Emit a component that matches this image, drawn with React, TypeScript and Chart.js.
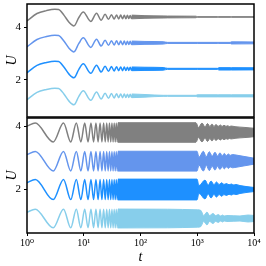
import React, { useEffect, useRef } from 'react';
import { Chart, registerables } from 'chart.js';
Chart.register(...registerables);

const FONT = '"Liberation Serif", "DejaVu Serif", serif';
const seriesColors = ['#808080', '#6495ED', '#1E90FF', '#87CEEB'];

// shared axis values
const xMin = 1;
const xMax = 10000;
const xTickValues = [1, 10, 100, 1000, 10000];
const xTickLabels = ['10⁰', '10¹', '10²', '10³', '10⁴'];
const yTickValues = [2, 4];
const yLabel = 'U';
const xLabel = 't';

// ---------- top panel ----------
const topYMin = 0.6;
const topYMax = 4.87;
const topLevels = [4.38, 3.4, 2.42, 1.4];
// resolved part of the damped oscillation (deviation from each level)
const topWaveT = [1, 1.5, 2.2, 3.1, 3.6, 4.5, 5.5, 6.7, 8.2, 9.8, 13.3, 16.8, 20.3, 23.8, 27.3, 30.8, 34.3, 37.8, 41.3, 44.8, 48.3, 51.8, 55.3, 58.8, 62.3, 65.8, 69.3, 72.8];
const topWaveDev = [-0.15, 0.13, 0.24, 0.29, 0.28, 0.06, -0.2, -0.34, -0.02, 0.19, -0.17, 0.14, -0.12, 0.1, -0.09, 0.085, -0.08, 0.077, -0.074, 0.072, -0.07, 0.068, -0.066, 0.064, -0.062, 0.06, -0.058, 0.056];
// dense part: half-width of the oscillation band
const topBandT = [70, 120, 250, 300, 950, 1000, 2300, 2400, 3800, 4000, 10000];
const topBandGray = [0.07, 0.05, 0.04, 0.035, 0.03, 0.012, 0.012, 0.012, 0.012, 0.012, 0.012];
const topBandBlue = [0.07, 0.055, 0.045, 0.02, 0.02, 0.02, 0.02, 0.02, 0.02, 0.04, 0.035];
const topBandDodger = [0.07, 0.06, 0.05, 0.02, 0.02, 0.02, 0.02, 0.045, 0.045, 0.045, 0.04];
const topBandLight = [0.07, 0.05, 0.02, 0.02, 0.02, 0.04, 0.04, 0.04, 0.04, 0.04, 0.04];

// ---------- bottom panel ----------
const botYMin = 0.62;
const botYMax = 4.27;
const botCenters = [3.81, 2.9, 2.0, 1.08];
const botAmps = [0.3, 0.31, 0.32, 0.295];
const botWaveT = [1, 1.4, 2.9, 4.4, 5.9, 7.4, 8.9, 10.4, 11.9, 13.4, 14.9, 16.4, 17.9, 19.4, 20.9, 22.4, 23.9, 25.4, 26.9, 28.4, 29.9, 31.4, 32.9, 34.4, 35.9, 37.4, 38.9, 40.4, 41.9];
const botWaveRel = [0.67, 1, -1, 1, -1, 1, -1, 1, -1, 1, -1, 1, -1, 1, -1, 1, -1, 1, -1, 1, -1, 1, -1, 1, -1, 1, -1, 1, -1];
const botBandGrayT = [40, 950, 1052, 1213, 1370, 1516, 1663, 1820, 1972, 2140, 2340, 2548, 2754, 2960, 3212, 3441, 3699, 3935, 4627, 6939, 10000];
const botBandGrayH = [0.31, 0.31, 0.16, 0.3, 0.175, 0.285, 0.19, 0.27, 0.19, 0.255, 0.195, 0.24, 0.195, 0.23, 0.195, 0.215, 0.19, 0.205, 0.185, 0.16, 0.135];
const botBandBlueT = [40, 990, 1074, 1279, 1443, 1630, 1834, 2055, 2275, 2517, 2754, 2999, 3252, 3527, 3822, 4147, 4818, 6939, 10000];
const botBandBlueH = [0.315, 0.315, 0.125, 0.315, 0.14, 0.3, 0.16, 0.285, 0.165, 0.265, 0.17, 0.245, 0.18, 0.23, 0.185, 0.21, 0.195, 0.145, 0.095];
const botBandDodgerT = [40, 990, 1074, 1370, 1560, 1750, 1970, 2180, 2420, 2700, 2960, 3270, 3630, 4000, 4400, 4800, 5665, 10000];
const botBandDodgerH = [0.33, 0.33, 0.125, 0.3, 0.14, 0.27, 0.15, 0.24, 0.16, 0.215, 0.16, 0.19, 0.15, 0.175, 0.145, 0.16, 0.125, 0.065];
const botBandLightT = [40, 300, 1000, 1150, 1300, 1485, 1644, 1900, 2114, 2350, 2570, 2780, 3000, 3250, 5665, 7800, 10000];
const botBandLightH = [0.3, 0.295, 0.275, 0.26, 0.095, 0.205, 0.095, 0.16, 0.09, 0.125, 0.08, 0.11, 0.08, 0.095, 0.08, 0.11, 0.095];

function lineDs(ts: number[], ys: number[], color: string, width: number, fill: any) {
  return {
    data: ts.map((t, i) => ({ x: t, y: ys[i] })),
    borderColor: color,
    backgroundColor: color,
    borderWidth: width,
    pointRadius: 0,
    fill,
    cubicInterpolationMode: 'monotone' as const,
  };
}

function bandDs(ts: number[], center: number, halfs: number[], color: string) {
  return [
    lineDs(ts, halfs.map((h) => center + h), color, 1, false),
    lineDs(ts, halfs.map((h) => center - h), color, 1, '-1'),
  ];
}

const framePlugin = {
  id: 'frame',
  afterDatasetsDraw(chart: any) {
    const { ctx, chartArea: a } = chart;
    ctx.save();
    ctx.strokeStyle = '#000';
    ctx.lineWidth = 1.5;
    ctx.strokeRect(a.left, a.top, a.right - a.left, a.bottom - a.top);
    ctx.restore();
  },
};

function yScale(min: number, max: number) {
  return {
    type: 'linear',
    min,
    max,
    afterBuildTicks: (s: any) => {
      s.ticks = yTickValues.map((v) => ({ value: v }));
    },
    afterFit: (s: any) => {
      s.width = 27;
      s.paddingTop = 0;
      s.paddingBottom = 0;
    },
    grid: { drawOnChartArea: false, drawTicks: true, tickLength: 3, color: '#000', lineWidth: 1 },
    border: { display: false },
    ticks: { color: '#000', font: { family: FONT, size: 11 }, padding: 3 },
    title: {
      display: true,
      text: yLabel,
      color: '#000',
      font: { family: FONT, size: 14, style: 'italic' },
      padding: { top: 4, bottom: 0 },
    },
  };
}

export default function App() {
  const topRef = useRef<HTMLCanvasElement>(null);
  const botRef = useRef<HTMLCanvasElement>(null);

  useEffect(() => {
    const topDatasets: any[] = [];
    const topBands = [topBandGray, topBandBlue, topBandDodger, topBandLight];
    topLevels.forEach((lvl, k) => {
      topDatasets.push(lineDs(topWaveT, topWaveDev.map((d) => lvl + d), seriesColors[k], 1.5, false));
      topDatasets.push(...bandDs(topBandT, lvl, topBands[k], seriesColors[k]));
    });

    const botDatasets: any[] = [];
    const botBandsT = [botBandGrayT, botBandBlueT, botBandDodgerT, botBandLightT];
    const botBandsH = [botBandGrayH, botBandBlueH, botBandDodgerH, botBandLightH];
    botCenters.forEach((c, k) => {
      botDatasets.push(lineDs(botWaveT, botWaveRel.map((r) => c + botAmps[k] * r), seriesColors[k], 1.5, false));
      botDatasets.push(...bandDs(botBandsT[k], c, botBandsH[k], seriesColors[k]));
    });

    const common = {
      responsive: false,
      maintainAspectRatio: false,
      animation: false,
      events: [],
      plugins: { legend: { display: false }, tooltip: { enabled: false } },
    };

    const topChart = new Chart(topRef.current!, {
      type: 'line',
      data: { datasets: topDatasets },
      options: {
        ...common,
        layout: { padding: { top: 4, right: 12, bottom: 1, left: 0 } },
        scales: {
          x: { type: 'logarithmic', min: xMin, max: xMax, display: false },
          y: yScale(topYMin, topYMax),
        },
      } as any,
      plugins: [framePlugin],
    });

    const botChart = new Chart(botRef.current!, {
      type: 'line',
      data: { datasets: botDatasets },
      options: {
        ...common,
        layout: { padding: { top: 2, right: 12, bottom: 0, left: 0 } },
        scales: {
          x: {
            type: 'logarithmic',
            min: xMin,
            max: xMax,
            afterBuildTicks: (s: any) => {
              s.ticks = xTickValues.map((v) => ({ value: v }));
            },
            afterFit: (s: any) => {
              s.height = 33;
              s.paddingLeft = 0;
              s.paddingRight = 0;
            },
            grid: { drawOnChartArea: false, drawTicks: true, tickLength: 3, color: '#000', lineWidth: 1 },
            border: { display: false },
            ticks: {
              color: '#000',
              font: { family: FONT, size: 10 },
              padding: 1,
              autoSkip: false,
              maxRotation: 0,
              callback: (_v: any, i: number) => xTickLabels[i] ?? '',
            },
            title: {
              display: true,
              text: xLabel,
              color: '#000',
              font: { family: FONT, size: 14, style: 'italic' },
              padding: { top: 0, bottom: 0 },
            },
          },
          y: yScale(botYMin, botYMax),
        },
      } as any,
      plugins: [framePlugin],
    });

    return () => {
      topChart.destroy();
      botChart.destroy();
    };
  }, []);

  return (
    <div style={{ position: 'absolute', left: 0, top: 0, width: 266, height: 266, background: '#fff' }}>
      <canvas ref={topRef} width={266} height={118} style={{ position: 'absolute', left: 0, top: 0 }} />
      <canvas ref={botRef} width={266} height={150} style={{ position: 'absolute', left: 0, top: 116 }} />
    </div>
  );
}
